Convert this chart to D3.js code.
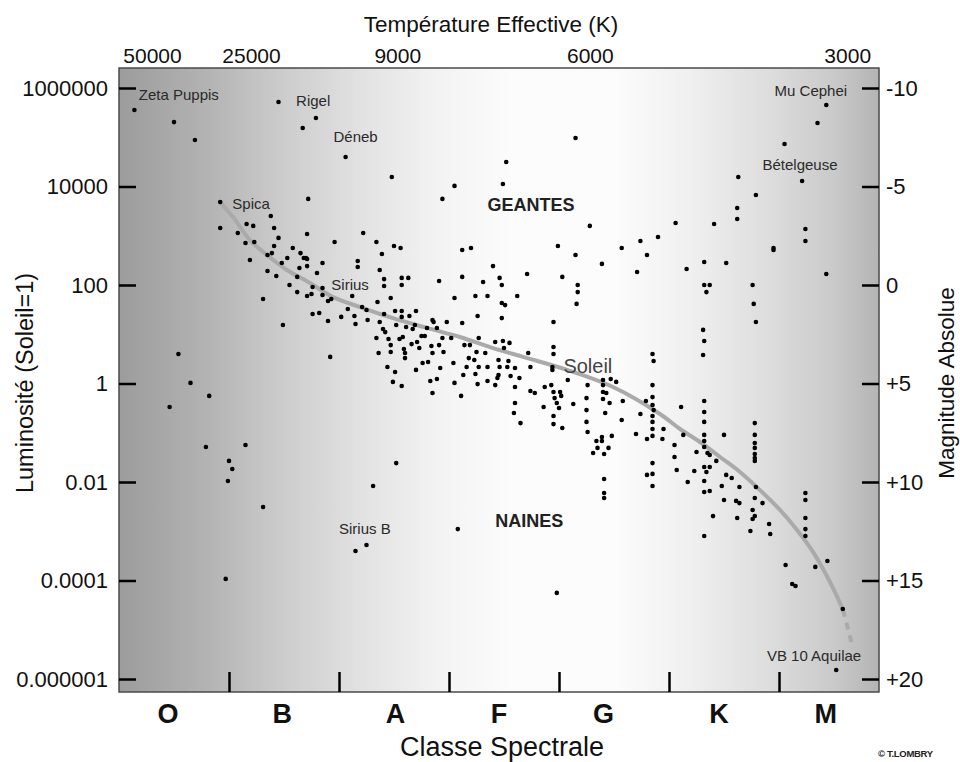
<!DOCTYPE html>
<html>
<head>
<meta charset="utf-8">
<script src="https://cdnjs.cloudflare.com/ajax/libs/d3/7.8.5/d3.min.js"></script>
<style>
body{margin:0;background:#fff}
svg{display:block;font-family:"Liberation Sans",Arial,sans-serif}
</style>
</head>
<body>
<div id="chart"></div>
<script>
// axes : type spectral (O0=0, B0=10 ... M0=60) et magnitude absolue
var spectreTicks = [10,20,30,40,50,60];
var classes = ["O","B","A","F","G","K","M"];
var classesPos = [4.4,14.8,25.1,34.5,44.0,54.5,64.2];
var temperatures = ["50000","25000","9000","6000","3000"];
var temperaturesPos = [3.0,12.0,25.3,42.8,66.2];
var luminosites = [1e6,1e4,100,1,0.01,1e-4,1e-6];
var luminositesLabels = ["1000000","10000","100","1","0.01","0.0001","0.000001"];
var magnitudes = [-10,-5,0,5,10,15,20];
var magnitudesLabels = ["-10","-5","0","+5","+10","+15","+20"];

// sequence principale [spectre, magnitude]
var sequence = [[9.18,-4.21],[10.36,-3.45],[11.91,-2.28],[13.45,-1.52],[15.27,-0.76],[17.36,-0.10],
  [19.45,0.61],[21.91,1.12],[24.91,1.68],[28.0,2.18],[31.0,2.64],[33.73,3.15],[36.73,3.65],
  [40.73,4.31],[44.91,5.18],[49.18,6.55],[51.0,7.31],[52.82,7.97],[54.64,8.73],[56.45,9.49],
  [58.27,10.41],[60.09,11.42],[61.64,12.44],[63.09,13.55],[64.91,15.38],[65.82,16.5]];
var sequenceFin = [[65.82,16.5],[66.73,18.43]];

// etoiles [spectre, magnitude]
var superGeantes = [[1.4,-8.88],[5.0,-8.27],[6.9,-7.36],[14.5,-9.29],[17.9,-8.48],[16.7,-7.97],[20.6,-6.50],
  [24.8,-5.48],[30.5,-5.03],[29.4,-4.37],[17.2,-4.37],[64.3,-9.14],[63.5,-8.22],[60.5,-7.16],[41.5,-7.46],
  [35.2,-6.24],[34.9,-5.13],[56.3,-5.48],[62.1,-5.28],[57.9,-4.57]];

var geantes = [[56.2,-3.91],[56.2,-3.35],[50.6,-3.15],[54.1,-3.10],[42.8,-3.00],[49.0,-2.44],[47.4,-2.23],
  [62.4,-2.84],[62.4,-2.23],[39.9,-1.98],[45.7,-1.88],[59.5,-1.88],[32.0,-1.88],[22.2,-2.64],[23.4,-2.18],
  [25.0,-1.98],[25.6,-1.88],[19.6,-2.18],[41.5,-1.52],[43.9,-1.07],[48.0,-1.52],[47.1,-0.66],[51.6,-0.81],
  [53.2,-1.17],[55.2,-1.12],[59.5,-1.78],[64.3,-0.56],[41.7,0.00],[41.7,0.36],[41.6,0.96],[53.2,0.00],
  [53.7,0.00],[53.4,0.36],[57.6,0.00],[57.7,0.96],[57.9,1.88],[53.1,2.28],[53.2,2.84],[53.1,3.55],
  [48.5,3.50],[48.6,3.86],[34.0,-0.96],[33.1,-0.15],[34.6,-0.36],[34.8,0.00],[37.1,-0.56],[40.3,-0.41],
  [36.2,0.56],[34.8,0.91],[35.1,1.02],[34.8,1.68],[39.5,1.88],[23.9,-1.57],[24.1,-0.30],[24.1,0.05],
  [25.7,-0.36],[26.3,-0.36],[25.7,0.00],[29.1,-0.20],[31.2,-0.41],[31.2,-1.78],[23.5,0.86],[24.7,0.66],
  [30.5,0.66],[32.4,0.56],[33.5,0.56]];

var sequenceB = [[9.2,-4.21],[13.8,-3.50],[9.2,-2.89],[11.6,-3.10],[12.2,-3.00],[14.1,-2.89],[10.8,-2.64],
  [17.1,-2.59],[14.5,-2.39],[11.5,-2.13],[12.3,-2.18],[14.1,-1.98],[15.8,-1.88],[16.5,-1.62],[17.0,-1.37],
  [16.8,-1.37],[17.1,-1.32],[13.9,-1.62],[13.5,-1.52],[11.9,-1.27],[15.3,-1.37],[14.8,-1.12],[17.1,-0.96],
  [16.4,-0.86],[18.5,-1.12],[21.7,-1.22],[21.7,-0.91],[23.7,-0.76],[13.5,-0.71],[14.3,-0.46],[16.2,-0.41],
  [18.0,-0.61],[15.5,0.00],[17.6,0.10],[18.5,0.15],[16.2,0.36],[17.1,0.56],[17.5,0.46],[18.5,0.51],
  [19.3,0.71],[19.0,0.81],[21.2,0.56],[13.1,0.71],[22.1,1.12],[22.5,1.27],[17.6,1.47],[18.2,1.42],
  [14.9,2.03],[19.2,3.65],[20.2,1.62],[21.4,1.57],[19.0,1.83],[21.5,1.98],[20.8,1.22]];

var sequenceAF = [[24.1,1.47],[25.1,1.32],[25.7,1.32],[27.0,1.32],[25.7,1.62],[26.4,1.57],[22.6,1.78],
  [23.7,1.88],[28.5,1.78],[28.6,1.88],[29.8,1.88],[32.6,1.57],[31.2,1.93],[25.2,2.03],[26.1,2.13],[26.9,2.03],
  [26.7,2.23],[24.0,2.23],[24.2,2.39],[28.0,2.18],[28.9,2.18],[27.5,2.59],[27.8,2.59],[25.5,2.74],[25.8,2.64],
  [24.5,2.74],[23.4,2.69],[29.4,2.69],[30.2,2.69],[32.7,2.69],[27.1,2.89],[26.6,3.00],[27.3,3.20],[24.7,3.05],
  [25.9,3.25],[28.4,3.10],[29.1,3.05],[29.5,3.40],[31.4,3.05],[31.9,3.05],[32.5,3.40],[24.7,3.40],[23.6,3.45],
  [26.0,3.45],[26.0,3.71],[28.5,3.45],[31.8,3.71],[32.3,3.81],[33.3,3.45],[27.6,3.96],[28.1,3.91],[30.4,3.96],
  [31.6,4.16],[32.7,4.16],[24.4,4.16],[25.1,4.42],[27.0,4.31],[29.2,4.21],[32.4,4.52],[31.3,4.57],[33.5,4.87],
  [28.3,4.87],[28.9,4.77],[24.9,4.92],[25.7,5.13],[30.5,4.97],[32.6,5.03],[28.5,5.48],[31.1,5.63],
  [34.2,2.89],[34.9,2.84],[35.0,3.20],[35.5,2.94],[34.5,3.81],[35.4,3.86],[33.5,4.16],[34.6,4.16],[35.3,4.16],
  [36.0,4.21],[37.2,3.45],[37.4,4.16],[39.5,3.15],[39.5,3.50],[39.4,4.16],[39.4,4.31],[34.5,4.57],[34.4,4.72],
  [34.2,5.08],[36.4,4.72],[35.6,4.62],[36.0,5.18],[37.4,5.38],[37.8,5.48],[38.7,5.18],[39.3,5.08],[39.5,5.43],
  [39.6,5.74],[40.1,5.43],[40.2,5.63],[39.8,5.99],[36.0,5.99],[35.9,6.50],[36.5,7.01],[38.6,6.19],[39.5,6.65],
  [39.5,7.06],[40.3,7.26],[40.0,6.24],[41.3,6.04]];

var sequenceGK = [[40.8,4.82],[42.6,5.08],[44.0,4.82],[44.7,4.77],[45.2,4.92],[44.0,5.08],[48.5,5.08],
  [42.5,5.74],[44.0,5.43],[44.3,5.48],[44.0,5.79],[44.6,5.99],[45.8,5.89],[47.9,5.89],[48.5,5.69],[48.5,6.09],
  [48.6,6.35],[42.5,6.35],[44.2,6.50],[47.4,6.55],[48.5,6.65],[45.7,6.85],[42.5,6.95],[48.5,6.95],[42.6,7.46],
  [48.5,7.31],[48.5,7.66],[49.5,7.31],[47.0,7.56],[48.0,7.82],[49.4,7.82],[44.8,7.66],[43.4,7.92],[43.9,7.92],
  [43.9,7.72],[43.5,8.27],[44.5,8.27],[43.1,8.53],[44.1,8.58],[51.1,6.19],[51.3,7.61],[50.5,8.12],[50.5,8.73],
  [50.7,9.39],[48.5,9.04],[48.0,9.64],[48.5,9.59],[48.5,10.20],[52.3,9.44],[52.5,8.48],[51.7,10.0],[53.2,5.89],
  [53.2,6.45],[53.2,6.95],[53.2,7.61],[53.2,7.92],[53.2,8.22],[53.5,8.53],[53.7,8.63],[54.3,8.93],[53.2,9.24],
  [53.4,9.49],[53.7,9.24],[53.2,9.95],[53.2,10.51],[53.7,10.46],[44.1,9.85],[44.1,10.56],[44.1,10.81],[55.0,7.61]];

var sequenceKM = [[57.8,7.01],[57.8,7.61],[57.8,8.02],[57.8,8.27],[57.8,8.58],[57.8,8.78],[57.8,8.93],
  [55.2,9.64],[55.7,9.80],[54.8,10.20],[56.4,10.25],[57.9,10.25],[57.8,10.81],[55.0,10.91],[56.1,10.96],
  [56.4,11.07],[58.5,11.07],[57.6,11.42],[57.8,11.73],[57.6,11.88],[56.2,11.83],[54.0,11.73],[59.1,12.13],
  [57.4,12.49],[59.2,12.64],[53.2,12.74],[62.4,10.56],[62.4,10.91],[62.4,11.83],[62.4,12.39],[62.4,12.74],
  [60.6,14.21],[63.3,14.31],[64.4,14.01],[61.2,15.18],[61.5,15.28],[65.8,16.45],[65.2,19.54]];

var naines = [[5.4,3.50],[6.5,4.97],[8.2,5.63],[4.6,6.19],[7.9,8.22],[11.5,8.12],[10.0,8.93],[10.3,9.34],
  [9.9,9.95],[25.2,9.04],[23.1,10.20],[13.1,11.27],[30.8,12.39],[21.5,13.50],[22.5,13.20],[9.7,14.92],[39.8,15.63]];

// etiquettes [texte, spectre, magnitude]
var nomsEtoiles = [["Zeta Puppis",1.8,-9.39],["Rigel",16.1,-9.09],["Déneb",19.5,-7.26],["Spica",10.3,-3.86],
  ["Sirius",19.3,0.25],["Sirius B",20.0,12.64],["Mu Cephei",59.6,-9.59],["Bételgeuse",58.5,-5.84],
  ["VB 10 Aquilae",58.9,19.09]];
var regions = [["GEANTES",33.5,-3.76],["NAINES",34.2,12.28]];
var soleil = ["Soleil",40.4,4.47];

var width = 960, height = 762;
var pLeft = 119, pRight = 879, pTop = 68, pBottom = 692;

var x = d3.scaleLinear().domain([0,69.09]).range([pLeft,pRight]);
var yMag = d3.scaleLinear().domain([-10,20]).range([88,679]);
var yLum = d3.scaleLog().domain([1e6,1e-6]).range([88,679]);

var svg = d3.select("#chart").append("svg")
  .attr("width",width).attr("height",height);

// fond degrade
var grad = svg.append("defs").append("linearGradient").attr("id","fond")
  .attr("x1","0%").attr("x2","100%").attr("y1","0%").attr("y2","0%");
[[0,"#9c9c9c"],[0.12,"#b4b4b4"],[0.22,"#cdcdcd"],[0.32,"#e2e2e2"],[0.42,"#f3f3f3"],[0.52,"#fcfcfc"],
 [0.65,"#fcfcfc"],[0.75,"#f0f0f0"],[0.85,"#dedede"],[0.94,"#cacaca"],[1,"#b4b4b4"]].forEach(function(s){
  grad.append("stop").attr("offset",s[0]).attr("stop-color",s[1]);
});
svg.append("rect").attr("x",pLeft).attr("y",pTop).attr("width",pRight-pLeft).attr("height",pBottom-pTop)
  .attr("fill","url(#fond)").attr("stroke","#4a4a4a").attr("stroke-width",1.5);

// sequence principale
var ligne = d3.line().x(function(d){return x(d[0])}).y(function(d){return yMag(d[1])}).curve(d3.curveCatmullRom);
svg.append("path").attr("d",ligne(sequence)).attr("fill","none")
  .attr("stroke","#aaaaaa").attr("stroke-width",4).attr("stroke-linecap","round");
svg.append("path").attr("d",ligne(sequenceFin)).attr("fill","none")
  .attr("stroke","#aaaaaa").attr("stroke-width",4).attr("stroke-dasharray","7,6");

// etoiles
var toutes = [].concat(superGeantes,geantes,sequenceB,sequenceAF,sequenceGK,sequenceKM,naines);
svg.append("g").selectAll("circle").data(toutes).enter().append("circle")
  .attr("cx",function(d){return x(d[0])})
  .attr("cy",function(d){return yMag(d[1])})
  .attr("r",2.3).attr("fill","#000");

// axes
function styleAxe(g,taille){
  g.select(".domain").remove();
  g.attr("font-family",null).attr("font-size",taille);
  g.selectAll("line").attr("stroke","#000").attr("stroke-width",2.5);
  g.selectAll("text").attr("fill","#111");
}
svg.append("g").attr("transform","translate("+pLeft+",0)")
  .call(d3.axisLeft(yLum).tickValues(luminosites).tickSizeInner(-17).tickSizeOuter(0).tickPadding(11)
    .tickFormat(function(d,i){return luminositesLabels[i]}))
  .call(styleAxe,22);
svg.append("g").attr("transform","translate("+pRight+",0)")
  .call(d3.axisRight(yMag).tickValues(magnitudes).tickSizeInner(-17).tickSizeOuter(0).tickPadding(7)
    .tickFormat(function(d,i){return magnitudesLabels[i]}))
  .call(styleAxe,22);
svg.append("g").attr("transform","translate(0,"+pBottom+")")
  .call(d3.axisBottom(x).tickValues(spectreTicks).tickSizeInner(-20).tickSizeOuter(0).tickFormat(""))
  .call(styleAxe,10);
svg.append("g").attr("transform","translate(0,"+pBottom+")")
  .call(d3.axisBottom(x).tickValues(classesPos).tickSize(0).tickPadding(12)
    .tickFormat(function(d,i){return classes[i]}))
  .call(styleAxe,27)
  .selectAll("text").attr("font-weight","bold");
svg.append("g").attr("transform","translate(0,"+pTop+")")
  .call(d3.axisTop(x).tickValues(temperaturesPos).tickSize(0).tickPadding(5)
    .tickFormat(function(d,i){return temperatures[i]}))
  .call(styleAxe,21);

// titres
svg.append("text").attr("x",491).attr("y",32).attr("text-anchor","middle")
  .attr("font-size",22.5).attr("fill","#111").text("Température Effective (K)");
svg.append("text").attr("x",502).attr("y",756).attr("text-anchor","middle")
  .attr("font-size",27).attr("fill","#111").text("Classe Spectrale");
svg.append("text").attr("transform","translate(33,383) rotate(-90)").attr("text-anchor","middle")
  .attr("font-size",23.5).attr("fill","#111").text("Luminosité (Soleil=1)");
svg.append("text").attr("transform","translate(954,383) rotate(-90)").attr("text-anchor","middle")
  .attr("font-size",22.5).attr("fill","#111").text("Magnitude Absolue");
svg.append("text").attr("x",878).attr("y",757).attr("font-size",9.5).attr("font-weight","bold")
  .attr("letter-spacing",-0.3).attr("fill","#222").text("© T.LOMBRY");

// etiquettes
svg.append("g").selectAll("text").data(nomsEtoiles).enter().append("text")
  .attr("x",function(d){return x(d[1])}).attr("y",function(d){return yMag(d[2])})
  .attr("font-size",15).attr("fill","#2a2a2a").text(function(d){return d[0]});
svg.append("g").selectAll("text").data(regions).enter().append("text")
  .attr("x",function(d){return x(d[1])}).attr("y",function(d){return yMag(d[2])})
  .attr("font-size",18).attr("font-weight","bold").attr("fill","#222").text(function(d){return d[0]});
svg.append("text").attr("x",x(soleil[1])).attr("y",yMag(soleil[2]))
  .attr("font-size",20).attr("fill","#444").text(soleil[0]);
</script>
</body>
</html>
